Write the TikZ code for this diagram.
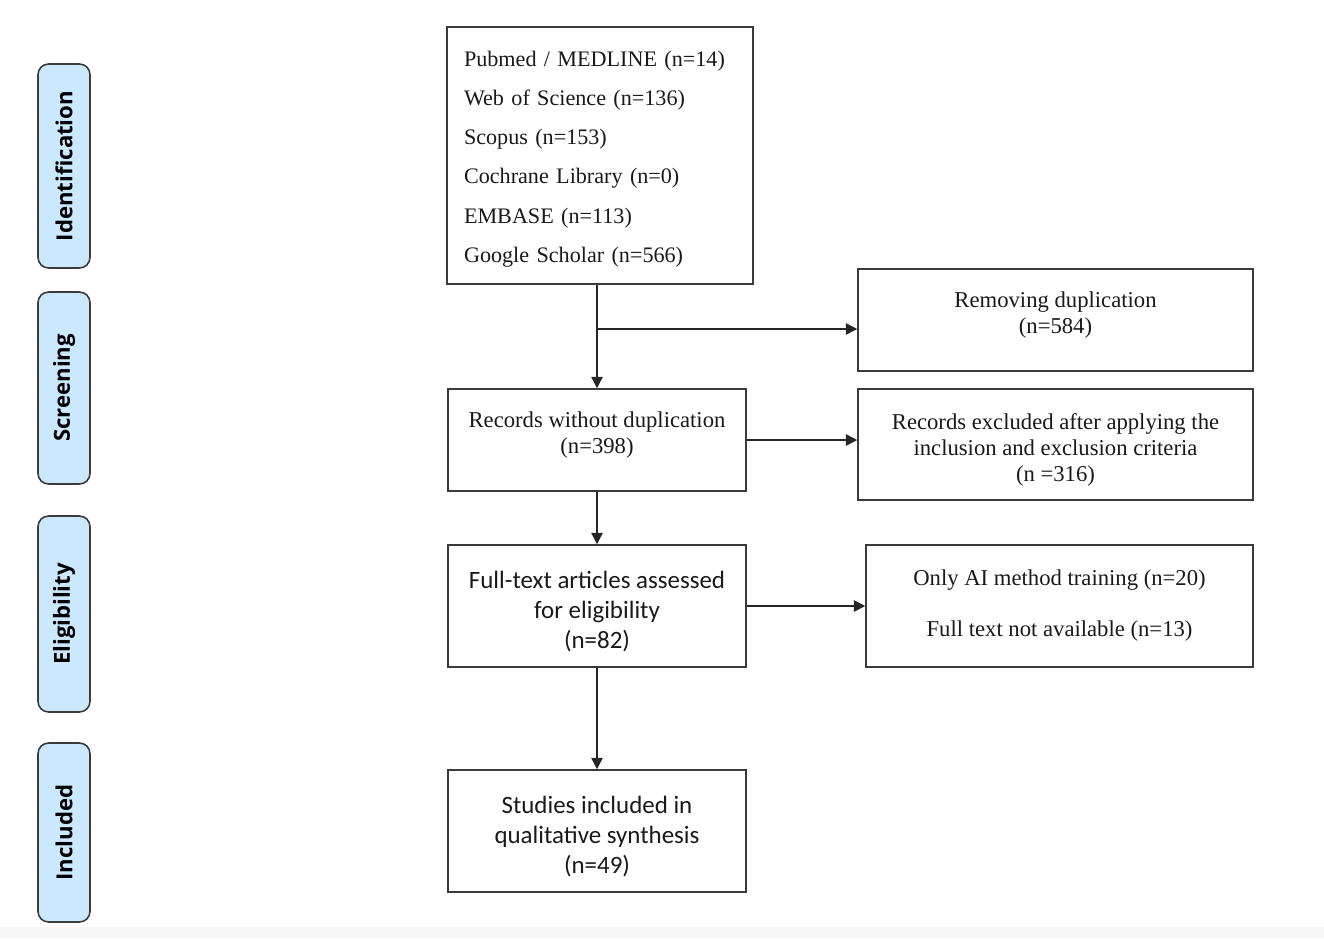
\documentclass[tikz,border=0pt]{standalone}
\usepackage{fontspec}
\setmainfont{Liberation Serif}
\newfontfamily\calib{Carlito}
\newfontfamily\sidefont{Open Sans}
\usetikzlibrary{arrows.meta}

\definecolor{stageblue}{HTML}{CCE8FF}
\definecolor{edgegray}{HTML}{3A3A3A}

\tikzset{
    flowbox/.style={draw=edgegray,line width=0.9pt,align=center,text=black!90,font=\fontsize{12.9}{14.8}\selectfont},
    calibbox/.style={flowbox,font=\calib\fontsize{14.2}{17}\selectfont},
    stagebox/.style={draw=edgegray,line width=0.9pt,fill=stageblue,rounded corners=6pt,rotate=90,
        minimum height=1.04cm,font=\sidefont\bfseries\fontsize{12.6}{14}\selectfont},
    arr/.style={-{Triangle[length=6.5pt,width=6.5pt]},line width=0.8pt,draw=black!85}
}

\begin{document}
\begin{tikzpicture}[x=0.02cm,y=-0.02cm]
    \useasboundingbox(0,0)rectangle(1324,938);
    \fill[black!3](0,927)rectangle(1324,938);

    %% stages on the left
    \node[stagebox,minimum width=4.08cm](ident)at(64,166){Identification};
    \node[stagebox,minimum width=3.84cm](screen)at(64,388){Screening};
    \node[stagebox,minimum width=3.92cm](elig)at(64,614){Eligibility};
    \node[stagebox,minimum width=3.58cm](incl)at(64,832.5){Included};

    %% main column
    \node[flowbox,align=left,minimum width=6.12cm,minimum height=5.14cm,text width=5.44cm,inner xsep=0.34cm,
        font=\fontsize{12.6}{22.3}\selectfont](src)at(600,155.5){\rule{0pt}{12.7pt}Pubmed / MEDLINE (n=14)\\Web of Science (n=136)\\Scopus (n=153)\\Cochrane Library (n=0)\\EMBASE (n=113)\\Google Scholar (n=566)};
    \node[flowbox,minimum width=5.96cm,minimum height=2.04cm](rec)at(597,440){Records without duplication\\(n=398)\rule[-8pt]{0pt}{0pt}};
    \node[calibbox,minimum width=5.96cm,minimum height=2.44cm](full)at(597,606){\rule{0pt}{16.3pt}Full-text articles assessed\\for eligibility\\(n=82)};
    \node[calibbox,minimum width=5.96cm,minimum height=2.44cm](incsyn)at(597,831){\rule{0pt}{16.3pt}Studies included in\\qualitative synthesis\\(n=49)};

    %% exclusions on the right
    \node[flowbox,minimum width=7.9cm,minimum height=2.04cm](rem)at(1055.5,320){Removing duplication\\(n=584)\rule[-8.5pt]{0pt}{0pt}};
    \node[flowbox,minimum width=7.9cm,minimum height=2.22cm](excl)at(1055.5,444.5){\rule{0pt}{15pt}Records excluded after applying the\\inclusion and exclusion criteria\\(n =316)};
    \node[flowbox,minimum width=7.74cm,minimum height=2.44cm,font=\fontsize{12.9}{29}\selectfont](onlyai)at(1059.5,606){Only AI method training (n=20)\\Full text not available (n=13)};

    \coordinate(br)at(597,329);
    \draw[line width=0.8pt,draw=black!85](src.south -| rec.north)--(br);
    \draw[arr](br)--(rec.north);
    \draw[arr](br)--(rem.west |- br);
    \draw[arr](rec.east)--(excl.west |- rec.east);
    \draw[arr](rec.south)--(full.north);
    \draw[arr](full.east)--(onlyai.west);
    \draw[arr](full.south)--(incsyn.north);
\end{tikzpicture}
\end{document}
